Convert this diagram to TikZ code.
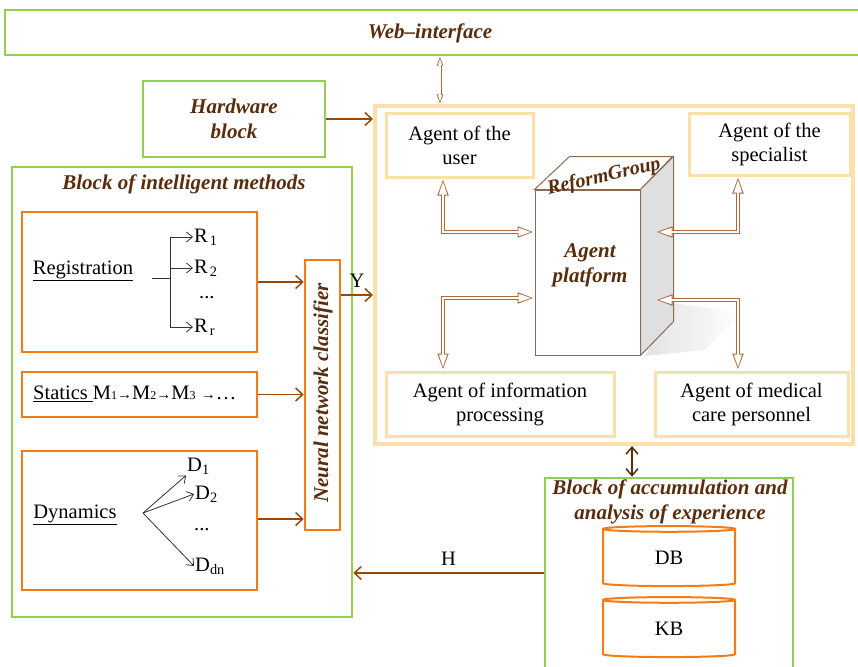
\documentclass[tikz,border=0pt]{standalone}
\usepackage{fontspec}
\setmainfont{Liberation Serif}
\usetikzlibrary{arrows.meta,positioning,shapes.geometric}

\definecolor{boxgreen}{RGB}{146,208,80}
\definecolor{boxorange}{RGB}{245,124,20}
\definecolor{frameorange}{RGB}{251,224,170}
\definecolor{titlebrown}{RGB}{88,44,12}
\definecolor{arrbrown}{RGB}{152,72,7}
\definecolor{hollowbrown}{RGB}{176,106,58}

\newcommand{\agfont}{\fontsize{20.5}{24}\selectfont}
\newcommand{\ttlfont}{\fontsize{21}{25}\selectfont\bfseries\itshape}
\newcommand{\smd}[1]{{\fontsize{12}{12}\selectfont #1}}
\newcommand{\sma}{{\fontsize{15}{15}\selectfont →}}

\tikzset{
  greenbox/.style={draw=boxgreen,line width=2.5pt,inner sep=0pt},
  orangebox/.style={draw=boxorange,line width=2.5pt,inner sep=0pt},
  agentbox/.style={draw=frameorange,line width=3pt,inner sep=0pt,align=center,font=\agfont},
  ttl/.style={text=titlebrown,font=\ttlfont,align=center,inner sep=0pt},
  brownarrow/.style={draw=arrbrown,line width=1.5pt,-{Straight Barb[length=7pt,width=13pt]}},
  thinarrow/.style={draw=black!80,line width=0.8pt,-{Straight Barb[length=6pt,width=10pt]}},
  % hollow arrow: brown underneath, white on top
  hollowarrow/.style={draw=white,line width=2.6pt,shorten >=3pt,shorten <=3pt,
    {Triangle[length=13pt,width=7.6pt]}-{Triangle[length=13pt,width=7.6pt]},
    preaction={draw=hollowbrown,line width=4.4pt,shorten >=0pt,shorten <=0pt,
      {Triangle[length=17pt,width=10pt]}-{Triangle[length=17pt,width=10pt]}}},
  hollowsmall/.style={draw=white,line width=1.4pt,shorten >=2.4pt,shorten <=2.4pt,
    {Triangle[length=6.5pt,width=3.8pt]}-{Triangle[length=6.5pt,width=3.8pt]},
    preaction={draw=hollowbrown,line width=3pt,shorten >=0pt,shorten <=0pt,
      {Triangle[length=9.5pt,width=6pt]}-{Triangle[length=9.5pt,width=6pt]}}},
  dbcyl/.style={cylinder,shape border rotate=90,aspect=0.2,draw=boxorange,line width=2pt,
    minimum width=132pt,minimum height=60pt,inner sep=0pt,font=\agfont}
}

\begin{document}
\begin{tikzpicture}[x=1pt,y=-1pt]
  \useasboundingbox (0,0) rectangle (858,666);

  % top blocks
  \node[greenbox,minimum width=865pt,minimum height=45pt] (webif) at (437.5,32.5) {};
  \node[ttl] (webtxt) at (430,33) {Web--interface};
  \node[greenbox,minimum width=182pt,minimum height=76pt,ttl] (hwblock) at (234,119) {Hardware\\block};

  % agent part
  \node[draw=frameorange,line width=4pt,minimum width=478pt,minimum height=338pt] (agentframe) at (614,275) {};
  \node[agentbox,minimum width=147pt,minimum height=64pt] (userag) at (459.5,145) {Agent of the\\user};
  \node[agentbox,minimum width=161pt,minimum height=62pt] (specag) at (769.5,144) {Agent of the\\specialist};
  \node[agentbox,minimum width=228pt,minimum height=64pt] (infoag) at (500,404) {Agent of information\\processing};
  \node[agentbox,minimum width=193pt,minimum height=64pt] (medag) at (751.5,404) {Agent of medical\\care personnel};

  % the box with shadow
  \shade[left color=gray!22,right color=white] (673,303) -- (742,312) -- (705,350) -- (645,356) -- cycle;
  \node[draw=titlebrown!70,line width=1pt,fill=white,minimum width=105pt,minimum height=165pt,inner sep=0pt] (platform) at (587.5,272.5) {};
  \node[ttl] (platformtxt) at (590,265) {Agent\\platform};
  \draw[draw=titlebrown!70,line width=1pt,fill=white] (platform.north west) -- ++(35,-33) -- ++(103,0) -- (platform.north east) -- cycle;
  \draw[draw=titlebrown!70,line width=1pt,fill=gray!25] (platform.north east) -- ++(33,-33) -- ++(0,165) -- (platform.south east) -- cycle;
  \node[ttl,font=\fontsize{20}{22}\selectfont\bfseries\itshape,rotate=13] (reform) at (604,177) {ReformGroup};

  \draw[hollowarrow] (userag.south -| 443,0) |- (platform.west |- 0,232);
  \draw[hollowarrow] (specag.south -| 738,0) |- ([xshift=15pt]platform.east |- 0,232);
  \draw[hollowarrow] (infoag.north -| 443,0) |- (platform.west |- 0,298);
  \draw[hollowarrow] (medag.north -| 738,0) |- ([xshift=15pt]platform.east |- 0,300);

  \draw[hollowsmall] (webif.south -| 440,0) -- (agentframe.north -| 440,0);
  \draw[brownarrow] (hwblock.east) -- (agentframe.west |- hwblock.east);

  % intelligent methods
  \node[greenbox,minimum width=340pt,minimum height=450pt] (methods) at (182,392) {};
  \node[ttl] (methodsttl) at (184,184) {Block of intelligent methods};

  \node[orangebox,minimum width=235pt,minimum height=140pt] (regbox) at (139.5,282) {};
  \node[orangebox,minimum width=235pt,minimum height=45pt] (statbox) at (139.5,394.5) {};
  \node[orangebox,minimum width=235pt,minimum height=139pt] (dynbox) at (139.5,520.5) {};
  \node[orangebox,minimum width=35pt,minimum height=270pt] (classif) at (322.5,395) {};
  \node[ttl,rotate=90] (classiftxt) at (323,393) {Neural network classifier};

  % registration
  \node[font=\agfont,inner sep=0pt] (regname) at (83,271) {\underline{Registration}};
  \coordinate (regstart) at (152,278);
  \coordinate (regfork) at (170,278);
  \node[font=\agfont,anchor=west,inner sep=1pt] (r1) at (193,237) {R\kern2pt\textsubscript{1}};
  \node[font=\agfont,anchor=west,inner sep=1pt] (r2) at (193,268) {R\kern2pt\textsubscript{2}};
  \node[font=\agfont,anchor=west,inner sep=1pt] (rdots) at (198,298) {...};
  \node[font=\agfont,anchor=west,inner sep=1pt] (rr) at (193,327) {R\kern2pt\textsubscript{r}};
  \draw[draw=black!80,line width=0.8pt] (regstart) -- (regfork);
  \draw[thinarrow] (regfork) |- (r1.west);
  \draw[thinarrow] (regfork) -- (regfork |- r2.west) -- (r2.west);
  \draw[thinarrow] (regfork) |- (rr.west);

  % statics
  \node[font=\agfont,anchor=west,inner sep=0pt] (statname) at (33,394)
    {\underline{Statics\ }M\smd{1}\sma M\smd{2}\sma M\smd{3} \sma…};

  % dynamics
  \node[font=\agfont,inner sep=0pt] (dynname) at (75,515) {\underline{Dynamics}};
  \coordinate (dynfork) at (143,513);
  \node[font=\agfont,anchor=west,inner sep=1pt] (d1) at (186,466) {D\textsubscript{1}};
  \node[font=\agfont,anchor=west,inner sep=1pt] (d2) at (194,494) {D\textsubscript{2}};
  \node[font=\agfont,anchor=west,inner sep=1pt] (ddots) at (193,530) {...};
  \node[font=\agfont,anchor=west,inner sep=1pt] (ddn) at (194,566) {D\textsubscript{dn}};
  \draw[thinarrow] (dynfork) -- (d1.south west);
  \draw[thinarrow] (dynfork) -- (d2.west);
  \draw[thinarrow] (dynfork) -- (ddn.west);

  \draw[brownarrow] (regbox.east) -- (classif.west |- regbox.east);
  \draw[brownarrow] (statbox.east) -- (classif.west |- statbox.east);
  \draw[brownarrow] (dynbox.east |- 0,519) -- (classif.west |- 0,519);

  \draw[brownarrow] (classif.east |- 0,295) -- (agentframe.west |- 0,295) node[midway,above=3pt,font=\agfont,text=black] (ylabel) {Y};

  % accumulation block
  \node[greenbox,minimum width=248pt,minimum height=210pt] (accum) at (669,583) {};
  \node[ttl] (accumttl) at (670,502) {Block of accumulation and\\analysis of experience};
  \node[dbcyl] (db) at (669,558) {DB};
  \node[dbcyl] (kb) at (669,629) {KB};

  \draw[draw=titlebrown,line width=1.5pt,{Straight Barb[length=7pt,width=12pt]}-{Straight Barb[length=7pt,width=12pt]}] (agentframe.south -| 632,0) -- (accum.north -| 632,0);
  \draw[brownarrow] (accum.west |- 0,573) -- (methods.east |- 0,573) node[midway,above=3pt,font=\agfont,text=black] (hlabel) {H};
\end{tikzpicture}
\end{document}
